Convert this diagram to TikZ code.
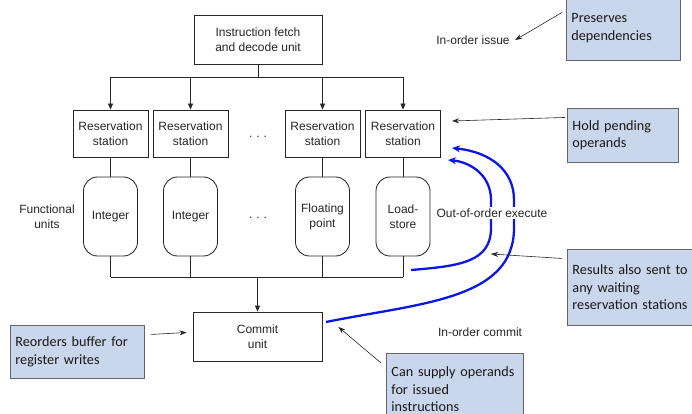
\documentclass[tikz,border=0pt]{standalone}
\usepackage{fontspec}
\setmainfont{Liberation Sans}
\newfontfamily\calloutfont{Carlito}
\usetikzlibrary{arrows.meta,calc}
\definecolor{calloutblue}{RGB}{201,214,236}
\definecolor{bypassblue}{RGB}{14,22,228}

\begin{document}
\begin{tikzpicture}[x=1pt,y=-1pt,
  unit/.style={draw=black!85, line width=0.85pt, font=\fontsize{12}{15}\selectfont,
    align=center, inner sep=0pt, text=black!85},
  rsbox/.style={unit, minimum width=75pt, minimum height=47pt},
  fubox/.style={unit, rounded corners=14pt, minimum width=54pt, minimum height=79pt},
  wire/.style={line width=0.85pt, draw=black!85},
  feed/.style={wire, -{Triangle[length=6pt,width=5pt]}},
  callout/.style={draw=black!60, line width=0.9pt, fill=calloutblue,
    font=\calloutfont\fontsize{14.2}{17.5}\selectfont, align=left,
    anchor=north west, inner xsep=5pt, inner ysep=0pt, text=black!90},
  pointer/.style={line width=0.6pt, draw=black!85, -{Stealth[length=7pt,width=5pt]}},
  bypass/.style={line width=2.3pt, draw=bypassblue, -{Stealth[length=8pt,width=7pt]}},
  caption/.style={font=\fontsize{12}{15}\selectfont, align=center, text=black!85}
]
\clip (0,0) rectangle (692,414);

% issue stage
\node[unit, minimum width=128pt, minimum height=49pt] (ifu) at (258,39.5)
  {Instruction fetch\\and decode unit};

\node[rsbox] (rs1) at (110.5,133.5) {Reservation\\station};
\node[rsbox] (rs2) at (190.5,133.5) {Reservation\\station};
\node[rsbox] (rs3) at (322.5,133.5) {Reservation\\station};
\node[rsbox] (rs4) at (403,133.5) {Reservation\\station};

\node[fubox] (fu1) at (110.5,216.5) {Integer};
\node[fubox] (fu2) at (190.5,216.5) {Integer};
\node[fubox] (fu3) at (322.5,216.5) {Floating\\point};
\node[fubox] (fu4) at (403,216.5) {Load-\\store};

\node[unit, minimum width=129pt, minimum height=49pt] (commit) at (257.5,336.5)
  {Commit\\unit};

\node[caption] (dots1) at (258,137) {.\,\,.\,\,.};
\node[caption] (dots2) at (258,218) {.\,\,.\,\,.};
\node[caption] (fulabel) at (47,217) {Functional\\units};

% issue bus
\coordinate (ibus) at (0,77);
\draw[wire] (ifu.south) -- (ifu.south |- ibus);
\draw[wire] (rs1.north |- ibus) -- (rs4.north |- ibus);
\foreach \r in {rs1,rs2,rs3,rs4} \draw[feed] (\r.north |- ibus) -- (\r.north);

% stations to units
\foreach \i in {1,2,3,4} \draw[wire] (rs\i.south) -- (fu\i.north);

% result bus
\coordinate (rbus) at (0,277);
\foreach \i in {1,2,3,4} \draw[wire] (fu\i.south) -- (fu\i.south |- rbus);
\draw[wire] (fu1.south |- rbus) -- (fu4.south |- rbus);
\draw[feed] (commit.north |- rbus) -- (commit.north);

% forwarding paths
\coordinate (fwdA) at (411,270);
\coordinate (fwdAend) at (448,160);
\coordinate (fwdB) at (326,322);
\coordinate (fwdBend) at (452,148);
\draw[bypass] (fwdA) .. controls (460,266) and (491,262) .. (491,228)
  -- (491,200) .. controls (491,175) and (470,162) .. (fwdAend);
\draw[bypass] (fwdB) .. controls (420,303) and (514,300) .. (514,228)
  -- (514,200) .. controls (514,170) and (490,152) .. (fwdBend);

% stage labels
\node[caption] (issue) at (473,40) {In-order issue};
\node[caption, fill=white, inner sep=1.5pt] (ooo) at (492,213) {Out-of-order execute};
\node[caption] (inorder) at (480,332) {In-order commit};

% callouts
\node[callout, text width=104pt, minimum height=65pt] (pres) at (566,-5)
  {Preserves\\dependencies};
\node[callout, text width=101pt, minimum height=54pt] (hold) at (567,108)
  {Hold pending\\operands};
\node[callout, text width=120pt, minimum height=76pt] (res) at (567,249)
  {Results also sent to\\any waiting\\reservation stations};
\node[callout, text width=124pt, minimum height=53pt] (reord) at (10,325)
  {Reorders buffer for\\register writes};
\node[callout, text width=127pt, minimum height=72pt] (can) at (386,353)
  {Can supply operands\\for issued\\instructions};

\coordinate (holdtip) at (452,121);
\coordinate (restip) at (491,254);
\draw[pointer] ([xshift=-4pt,yshift=15.5pt]pres.west) -- ([xshift=2pt]issue.east);
\draw[pointer] ([xshift=-2pt,yshift=18pt]hold.west) -- (holdtip);
\draw[pointer] ([xshift=-5pt,yshift=29pt]res.west) -- (restip);
\draw[pointer] ([xshift=6pt,yshift=17.5pt]reord.east) -- ([xshift=-6pt,yshift=4pt]commit.west);
\draw[pointer] ([xshift=-5pt,yshift=-10pt]can.north west) -- ([xshift=16pt,yshift=9.5pt]commit.east);
\end{tikzpicture}
\end{document}
